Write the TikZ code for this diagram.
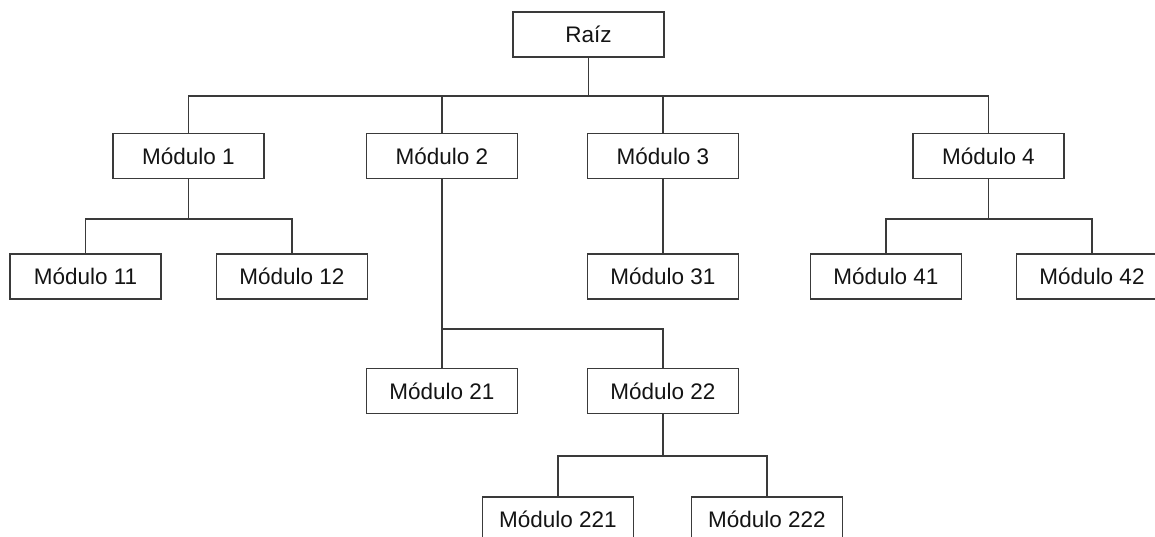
\documentclass[tikz,border=0pt]{standalone}
\usepackage{fontspec}
\setmainfont{Liberation Sans}
\begin{document}
\begin{tikzpicture}[x=1pt,y=-1pt,
  modbox/.style={draw=linegray, line width=1.3pt, fill=white, minimum width=151pt,
    minimum height=45pt, inner sep=0pt, text=black!92,
    font=\fontsize{22.5}{26}\selectfont},
  wire/.style={draw=linegray, line width=1.3pt}]
\definecolor{linegray}{HTML}{3A3A3A}
\useasboundingbox (0,0) rectangle (1155,537);

% level 0
\node[modbox] (raiz) at (588.5,34.5) {Raíz};
% level 1
\node[modbox] (m1) at (188.5,156) {Módulo 1};
\node[modbox] (m2) at (442,156) {Módulo 2};
\node[modbox] (m3) at (663,156) {Módulo 3};
\node[modbox] (m4) at (988.5,156) {Módulo 4};
% level 2
\node[modbox] (m11) at (85.5,276.5) {Módulo 11};
\node[modbox] (m12) at (292,276.5) {Módulo 12};
\node[modbox] (m31) at (663,276.5) {Módulo 31};
\node[modbox] (m41) at (886,276.5) {Módulo 41};
\node[modbox] (m42) at (1092,276.5) {Módulo 42};
% level 3
\node[modbox] (m21) at (442,391) {Módulo 21};
\node[modbox] (m22) at (663,391) {Módulo 22};
% level 4
\node[modbox] (m221) at (558,519.5) {Módulo 221};
\node[modbox] (m222) at (767,519.5) {Módulo 222};

% bus lines
\coordinate (busA) at (0,96);
\coordinate (busB) at (0,219);
\coordinate (busC) at (0,329);
\coordinate (busD) at (0,456);

\draw[wire] (raiz.south) -- (raiz.south |- busA);
\draw[wire] (m1.north) -- (m1.north |- busA) -- (m4.north |- busA) -- (m4.north);
\draw[wire] (m2.north) -- (m2.north |- busA);
\draw[wire] (m3.north) -- (m3.north |- busA);

\draw[wire] (m1.south) -- (m1.south |- busB);
\draw[wire] (m11.north) -- (m11.north |- busB) -- (m12.north |- busB) -- (m12.north);

\draw[wire] (m3.south) -- (m31.north);

\draw[wire] (m4.south) -- (m4.south |- busB);
\draw[wire] (m41.north) -- (m41.north |- busB) -- (m42.north |- busB) -- (m42.north);

\draw[wire] (m2.south) -- (m2.south |- busC) -- (m22.north |- busC) -- (m22.north);
\draw[wire] (m2.south |- busC) -- (m21.north);

\draw[wire] (m22.south) -- (m22.south |- busD);
\draw[wire] (m221.north) -- (m221.north |- busD) -- (m222.north |- busD) -- (m222.north);
\end{tikzpicture}
\end{document}
